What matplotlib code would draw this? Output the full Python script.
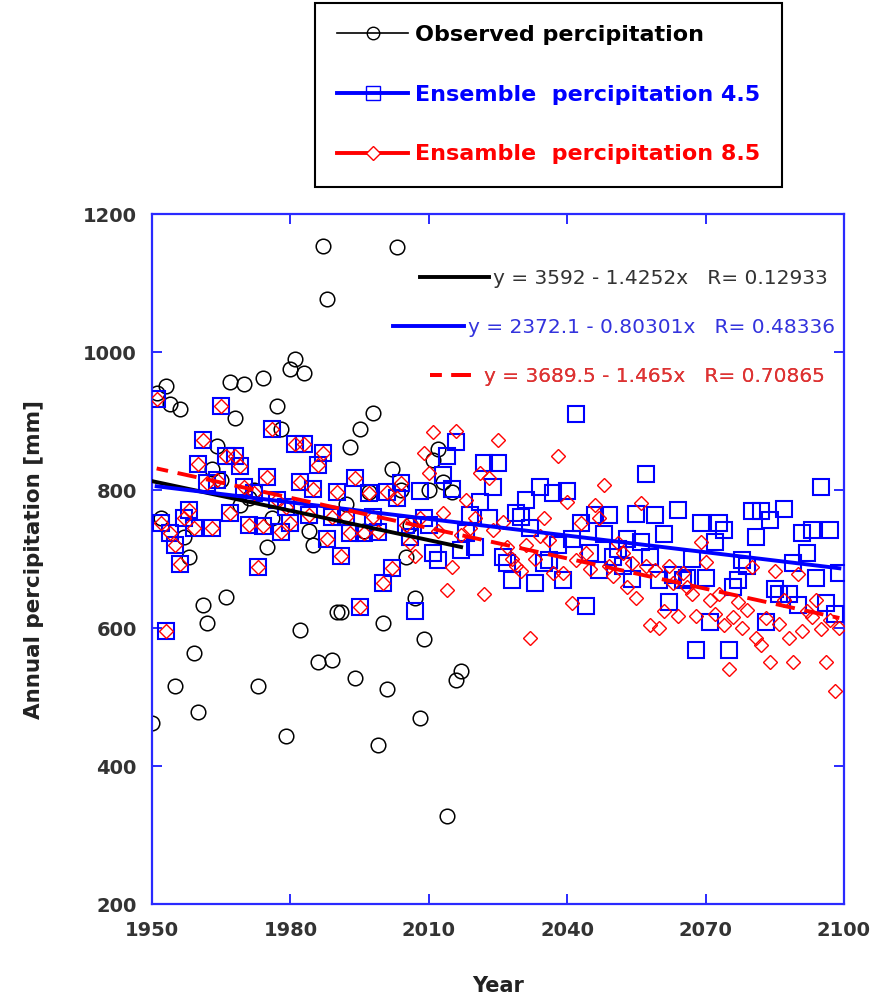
import numpy as np
import matplotlib.pyplot as plt
from matplotlib.lines import Line2D

# observed annual precipitation, 1950-2017
obs_years = np.arange(1950, 2018)
obs_precip = [463, 940, 760, 951, 925, 516, 918, 732, 703, 564,
              479, 634, 607, 831, 864, 814, 645, 956, 905, 778,
              954, 788, 800, 516, 963, 717, 760, 922, 889, 444,
              975, 990, 597, 969, 740, 720, 551, 1154, 1077, 554,
              623, 623, 780, 862, 527, 889, 740, 797, 911, 430,
              607, 512, 831, 1152, 800, 703, 749, 644, 469, 584,
              800, 843, 860, 811, 327, 797, 525, 537]

# ensemble, historical part shared by both scenarios (1951-2005)
ens_years = np.arange(1951, 2100)
hist_precip = [932, 752, 595, 738, 720, 693, 759, 771, 745, 837,
               872, 810, 745, 814, 922, 850, 766, 850, 835, 804,
               749, 795, 688, 748, 819, 889, 785, 739, 775, 752,
               867, 811, 867, 764, 801, 836, 853, 729, 761, 797,
               704, 761, 738, 817, 631, 738, 795, 761, 739, 665,
               797, 687, 788, 810, 750]

# projections 2006-2099
rcp45_future = [732, 624, 798, 760, 749, 708, 699, 822, 849, 802,
                869, 713, 737, 764, 718, 783, 839, 760, 805, 839,
                703, 694, 670, 766, 761, 786, 745, 665, 805, 694,
                699, 795, 720, 670, 798, 729, 910, 752, 632, 708,
                764, 684, 736, 764, 703, 715, 690, 729, 671, 765,
                725, 823, 703, 764, 670, 736, 638, 677, 771, 670,
                672, 700, 568, 752, 672, 609, 725, 752, 742, 568,
                660, 670, 699, 690, 769, 732, 769, 609, 757, 657,
                650, 773, 650, 694, 633, 737, 708, 742, 672, 805,
                636, 742, 621, 680]
rcp85_future = [723, 705, 760, 853, 824, 884, 740, 766, 655, 689,
                885, 735, 786, 745, 760, 824, 650, 817, 742, 872,
                754, 718, 700, 690, 682, 720, 585, 700, 733, 759,
                728, 680, 849, 680, 783, 636, 699, 752, 708, 686,
                778, 760, 807, 690, 675, 723, 708, 660, 694, 643,
                781, 690, 604, 684, 600, 625, 690, 665, 618, 680,
                660, 650, 617, 725, 696, 640, 620, 650, 605, 541,
                616, 638, 600, 626, 688, 585, 576, 615, 551, 682,
                606, 641, 585, 551, 679, 595, 625, 616, 640, 598,
                551, 612, 508, 600]

ens45 = np.array(hist_precip + rcp45_future)
ens85 = np.array(hist_precip + rcp85_future)

# linear fits as printed on the chart
obs_fit = (3592, -1.4252)
rcp45_fit = (2372.1, -0.80301)
rcp85_fit = (3689.5, -1.465)
eq_labels = ['y = 3592 - 1.4252x   R= 0.12933',
             'y = 2372.1 - 0.80301x   R= 0.48336',
             'y = 3689.5 - 1.465x   R= 0.70865']
legend_labels = ['Observed percipitation',
                 'Ensemble  percipitation 4.5',
                 'Ensamble  percipitation 8.5']

blue = '#0000ff'
red = '#ff0000'
axis_blue = '#2a2aff'

fig = plt.figure(figsize=(8.87, 10.02), dpi=100)
ax = fig.add_axes([0.1714, 0.0978, 0.7801, 0.6886])

ax.plot(obs_years, obs_precip, ls='none', marker='o', ms=10.5, mfc='none',
        mec='black', mew=1.1, zorder=2)
ax.plot(ens_years, ens45, ls='none', marker='s', ms=12, mfc='none',
        mec=blue, mew=1.5, zorder=3)
ax.plot(ens_years, ens85, ls='none', marker='D', ms=7.2, mfc='none',
        mec=red, mew=1.0, zorder=4)

tr_obs, = ax.plot(obs_years, obs_fit[0] + obs_fit[1] * obs_years,
                  color='black', lw=2.8, zorder=5)
tr45, = ax.plot(ens_years, rcp45_fit[0] + rcp45_fit[1] * ens_years,
                color=blue, lw=2.8, zorder=6)
tr85, = ax.plot(ens_years, rcp85_fit[0] + rcp85_fit[1] * ens_years,
                color=red, lw=2.8, ls=(2, (5, 2.5)), zorder=7)

ax.set_xlim(1950, 2100)
ax.set_ylim(200, 1200)
ax.set_xticks(np.arange(1950, 2101, 30))
ax.set_yticks(np.arange(200, 1201, 200))
for s in ax.spines.values():
    s.set_color(axis_blue)
    s.set_linewidth(1.6)
ax.tick_params(direction='in', length=7, width=1.4, color=axis_blue,
               top=True, right=True, labelsize=14, labelcolor='#333333')
ax.tick_params(axis='y', pad=11)
ax.tick_params(axis='x', pad=12)
for lab in ax.get_xticklabels() + ax.get_yticklabels():
    lab.set_fontweight('bold')

ax.set_xlabel('Year', fontsize=15, fontweight='bold', color='#222222', labelpad=26)
ax.set_ylabel('Annual percipitation [mm]', fontsize=15.5, fontweight='bold',
              color='#222222', labelpad=28)

# regression equations
eq_specs = [(tr_obs, eq_labels[0], '#333333', (0.977, 0.906), 3.45),
            (tr45, eq_labels[1], '#3333dd', (0.987, 0.835), 3.5),
            (tr85, eq_labels[2], '#dd3333', (0.973, 0.764), 2.5)]
for h, lab, col, anchor, hl in eq_specs:
    leg = ax.legend([h], [lab], loc='center right', bbox_to_anchor=anchor,
                    frameon=False, handlelength=hl, handletextpad=0.2,
                    borderpad=0, borderaxespad=0,
                    prop=dict(family='DejaVu Sans', size=14.5), labelcolor=col)
    ax.add_artist(leg)

# series legend above the plot
handles = [Line2D([], [], color='black', lw=1.2, marker='o', ms=9, mfc='none', mec='black'),
           Line2D([], [], color=blue, lw=2.8, marker='s', ms=10, mfc='none', mec=blue),
           Line2D([], [], color=red, lw=2.8, marker='D', ms=7, mfc='white', mec=red)]
top_leg = fig.legend(handles, legend_labels, loc='upper left',
                     bbox_to_anchor=(0.355, 0.997), frameon=True, fancybox=False,
                     edgecolor='black', framealpha=1, handlelength=3.2,
                     handletextpad=0.3, labelspacing=1.78, borderpad=1.0,
                     borderaxespad=0, prop=dict(weight='bold', size=16),
                     labelcolor=['black', blue, red])
top_leg.get_frame().set_linewidth(1.5)

fig.savefig('out.png', dpi=100)
